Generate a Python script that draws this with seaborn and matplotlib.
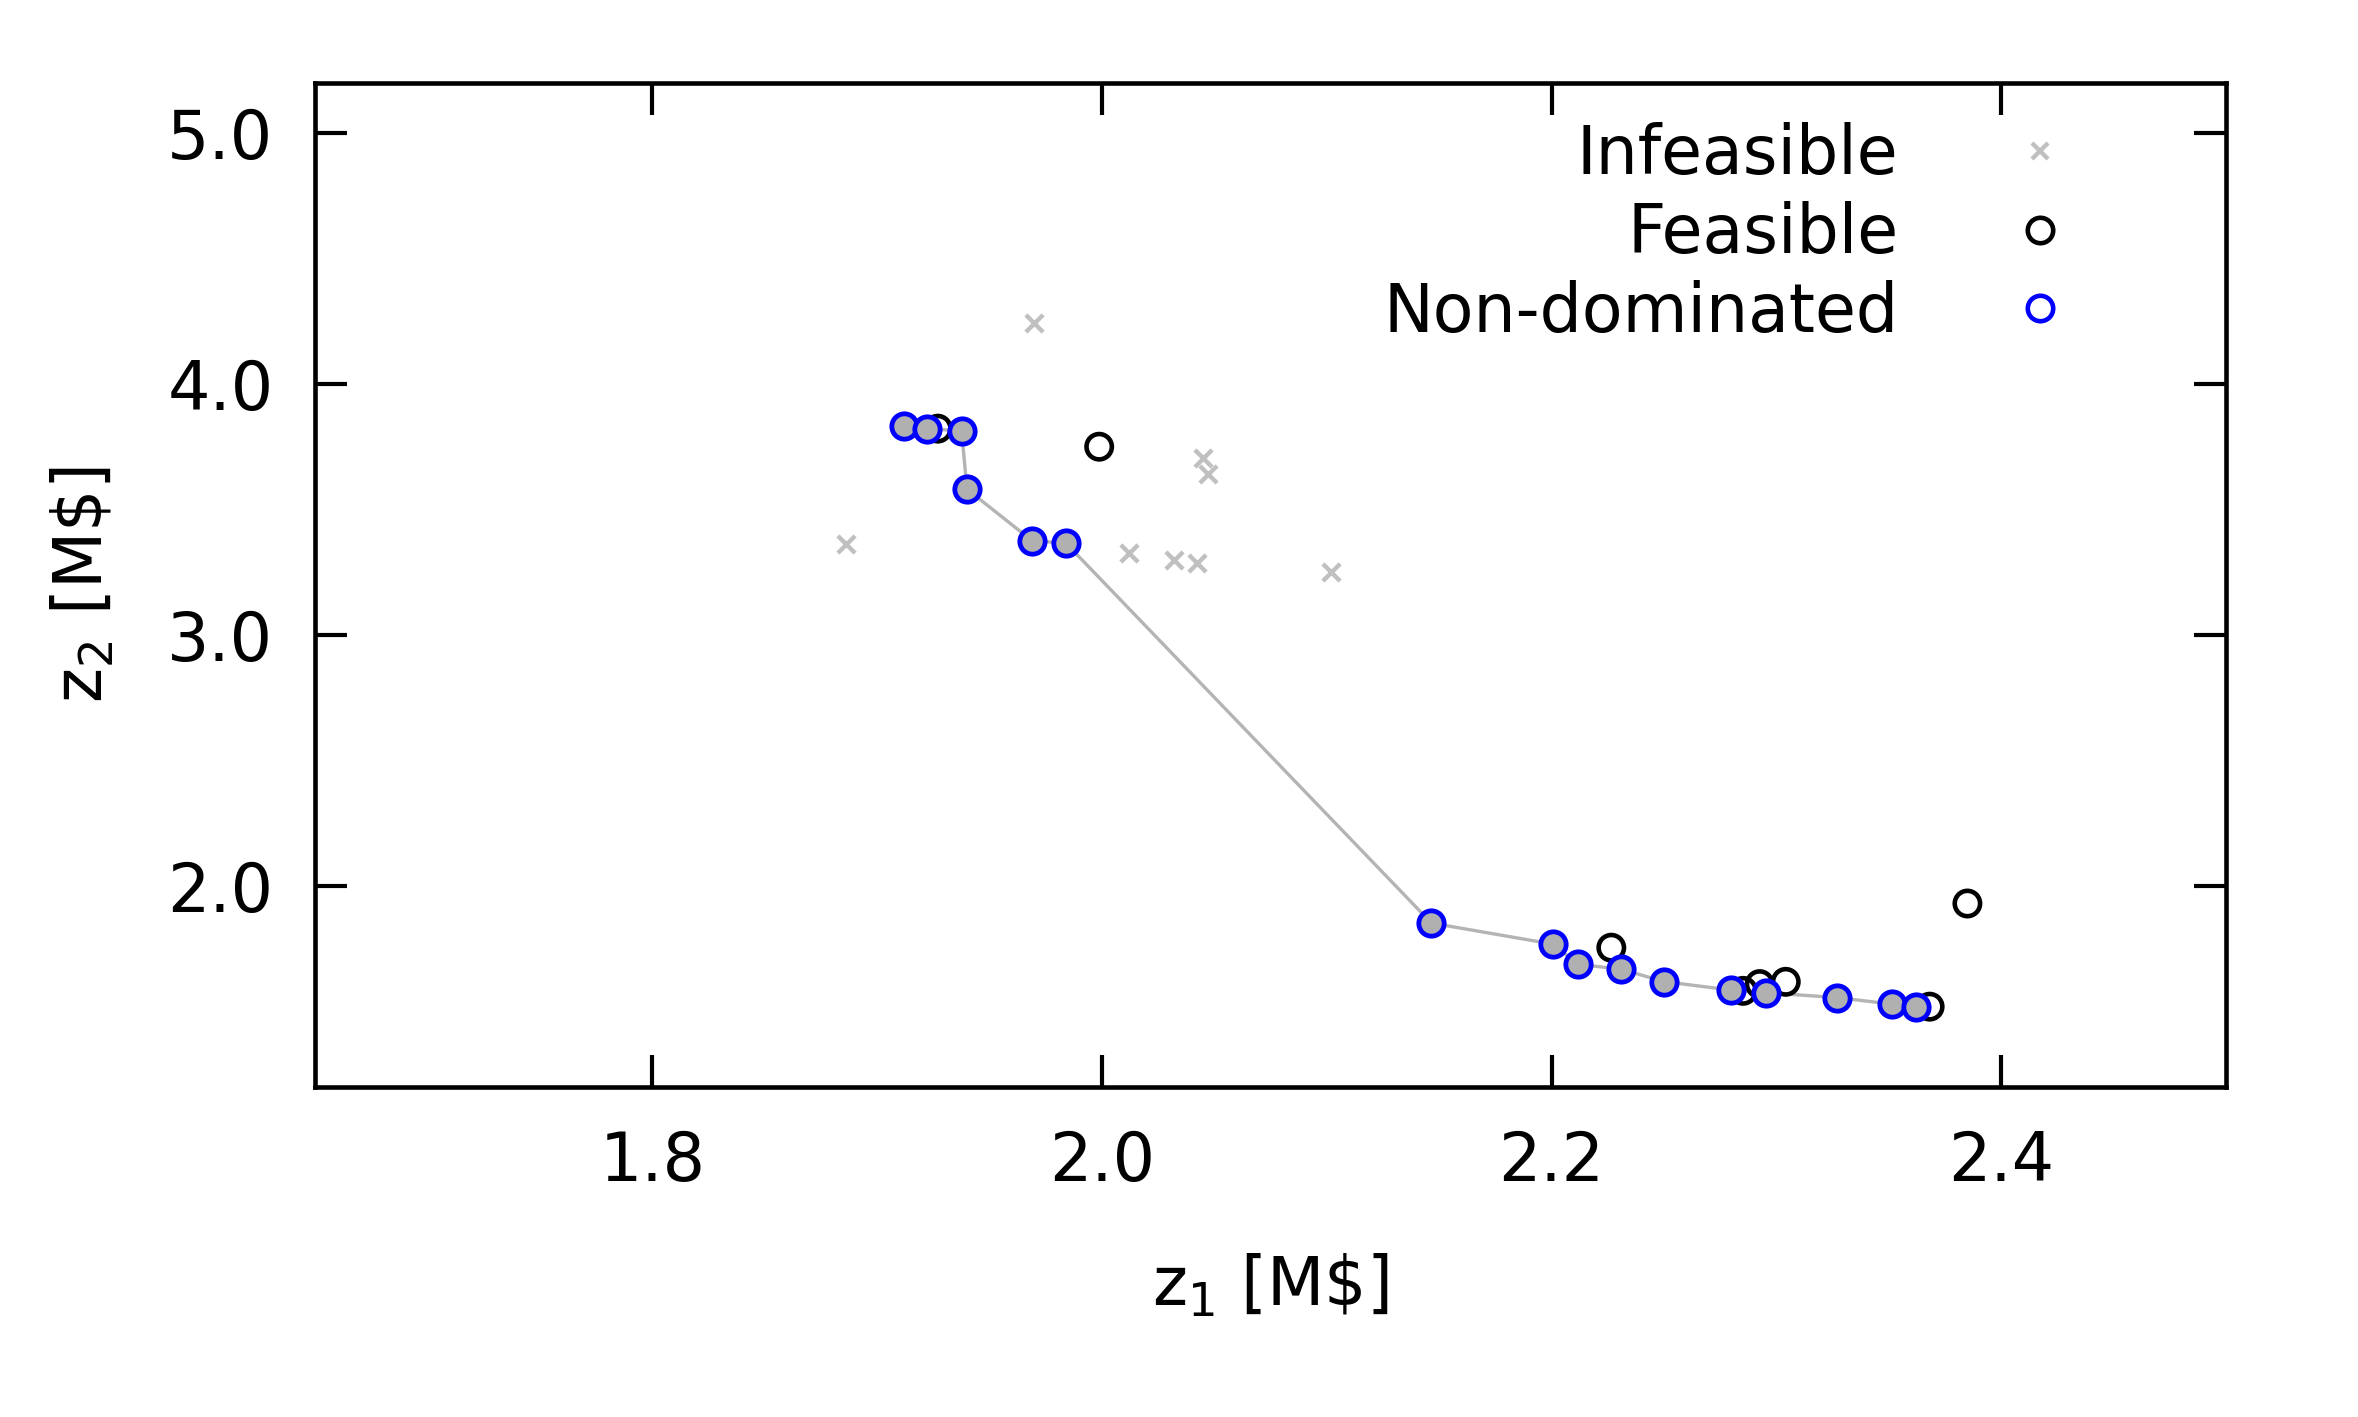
import matplotlib
matplotlib.use("Agg")
import matplotlib.pyplot as plt
from matplotlib.lines import Line2D
import seaborn as sns

# Infeasible designs (grey crosses)
infeasible_z1 = [1.886, 1.970, 2.012, 2.032, 2.0425, 2.045, 2.047, 2.1017]
infeasible_z2 = [3.363, 4.245, 3.329, 3.300, 3.289, 3.705, 3.641, 3.251]

# Feasible but dominated designs (black open circles)
feasible_z1 = [1.927, 1.9988, 2.2266, 2.2852, 2.2926, 2.3042, 2.3682, 2.385]
feasible_z2 = [3.823, 3.751, 1.755, 1.583, 1.610, 1.619, 1.520, 1.931]

# Non-dominated designs (pareto front)
front_z1 = [1.912, 1.922, 1.9376, 1.940, 1.969, 1.984, 2.1466, 2.2007,
            2.2118, 2.2311, 2.2499, 2.280, 2.2956, 2.3271, 2.3516, 2.3623]
front_z2 = [3.834, 3.823, 3.814, 3.582, 3.376, 3.367, 1.853, 1.769,
            1.689, 1.669, 1.620, 1.586, 1.576, 1.556, 1.530, 1.520]

x_ticks = [1.8, 2.0, 2.2, 2.4]
y_ticks = [2.0, 3.0, 4.0, 5.0]

sns.set_style("ticks")
plt.rcParams["font.family"] = ["DejaVu Sans"]
plt.rcParams["font.size"] = 16
plt.rcParams["mathtext.default"] = "regular"
plt.rcParams["text.color"] = "black"
plt.rcParams["axes.labelcolor"] = "black"
plt.rcParams["xtick.color"] = "black"
plt.rcParams["ytick.color"] = "black"

fig = plt.figure(figsize=(2358 / 300, 1417 / 300), dpi=300)
ax = fig.add_axes([0.1336, 0.2329, 0.944 - 0.1336, 0.9414 - 0.2329])

grey = "#c0c0c0"
fill = "#b0b0b0"

sns.scatterplot(x=infeasible_z1, y=infeasible_z2, marker="x", color=grey,
                s=17, linewidth=1.05, ax=ax, zorder=2)
sns.lineplot(x=front_z1, y=front_z2, color="#b4b4b4", linewidth=0.8,
             estimator=None, sort=True, ax=ax, zorder=3)
sns.scatterplot(x=feasible_z1, y=feasible_z2, marker="o", facecolor="none",
                edgecolor="black", s=37, linewidth=1.1, ax=ax, zorder=4)
sns.scatterplot(x=front_z1, y=front_z2, marker="o", color=fill,
                edgecolor="#0000ff", s=37, linewidth=1.15, ax=ax, zorder=5)

ax.set_xlim(1.65, 2.5)
ax.set_ylim(1.2, 5.2)
ax.set_xticks(x_ticks)
ax.set_yticks(y_ticks)
ax.set_xticklabels([f"{v:.1f}" for v in x_ticks])
ax.set_yticklabels([f"{v:.1f}" for v in y_ticks])
ax.tick_params(direction="in", length=7.7, width=1.0, pad=10,
               top=True, right=True, labelsize=16, colors="black")
for sp in ax.spines.values():
    sp.set_linewidth(1.1)
    sp.set_color("black")

ax.set_xlabel(r"z$_1$ [M\$]", fontsize=16, labelpad=14)
ax.set_ylabel(r"z$_2$ [M\$]", fontsize=16, labelpad=12)

handles = [
    Line2D([], [], linestyle="none", marker="x", color=grey,
           markersize=4, markeredgewidth=1.05),
    Line2D([], [], linestyle="none", marker="o", markerfacecolor="none",
           markeredgecolor="black", markersize=6.1, markeredgewidth=1.1),
    Line2D([], [], linestyle="none", marker="o", markerfacecolor="none",
           markeredgecolor="#0000ff", markersize=6.1, markeredgewidth=1.1),
]
ax.legend(handles, ["Infeasible", "Feasible", "Non-dominated"],
          loc="upper right", bbox_to_anchor=(0.9377, 0.961),
          frameon=False, markerfirst=False, fontsize=16,
          handlelength=2.0, handletextpad=1.13, labelspacing=0.19,
          borderpad=0, borderaxespad=0)

fig.savefig("out.png", dpi=300)
